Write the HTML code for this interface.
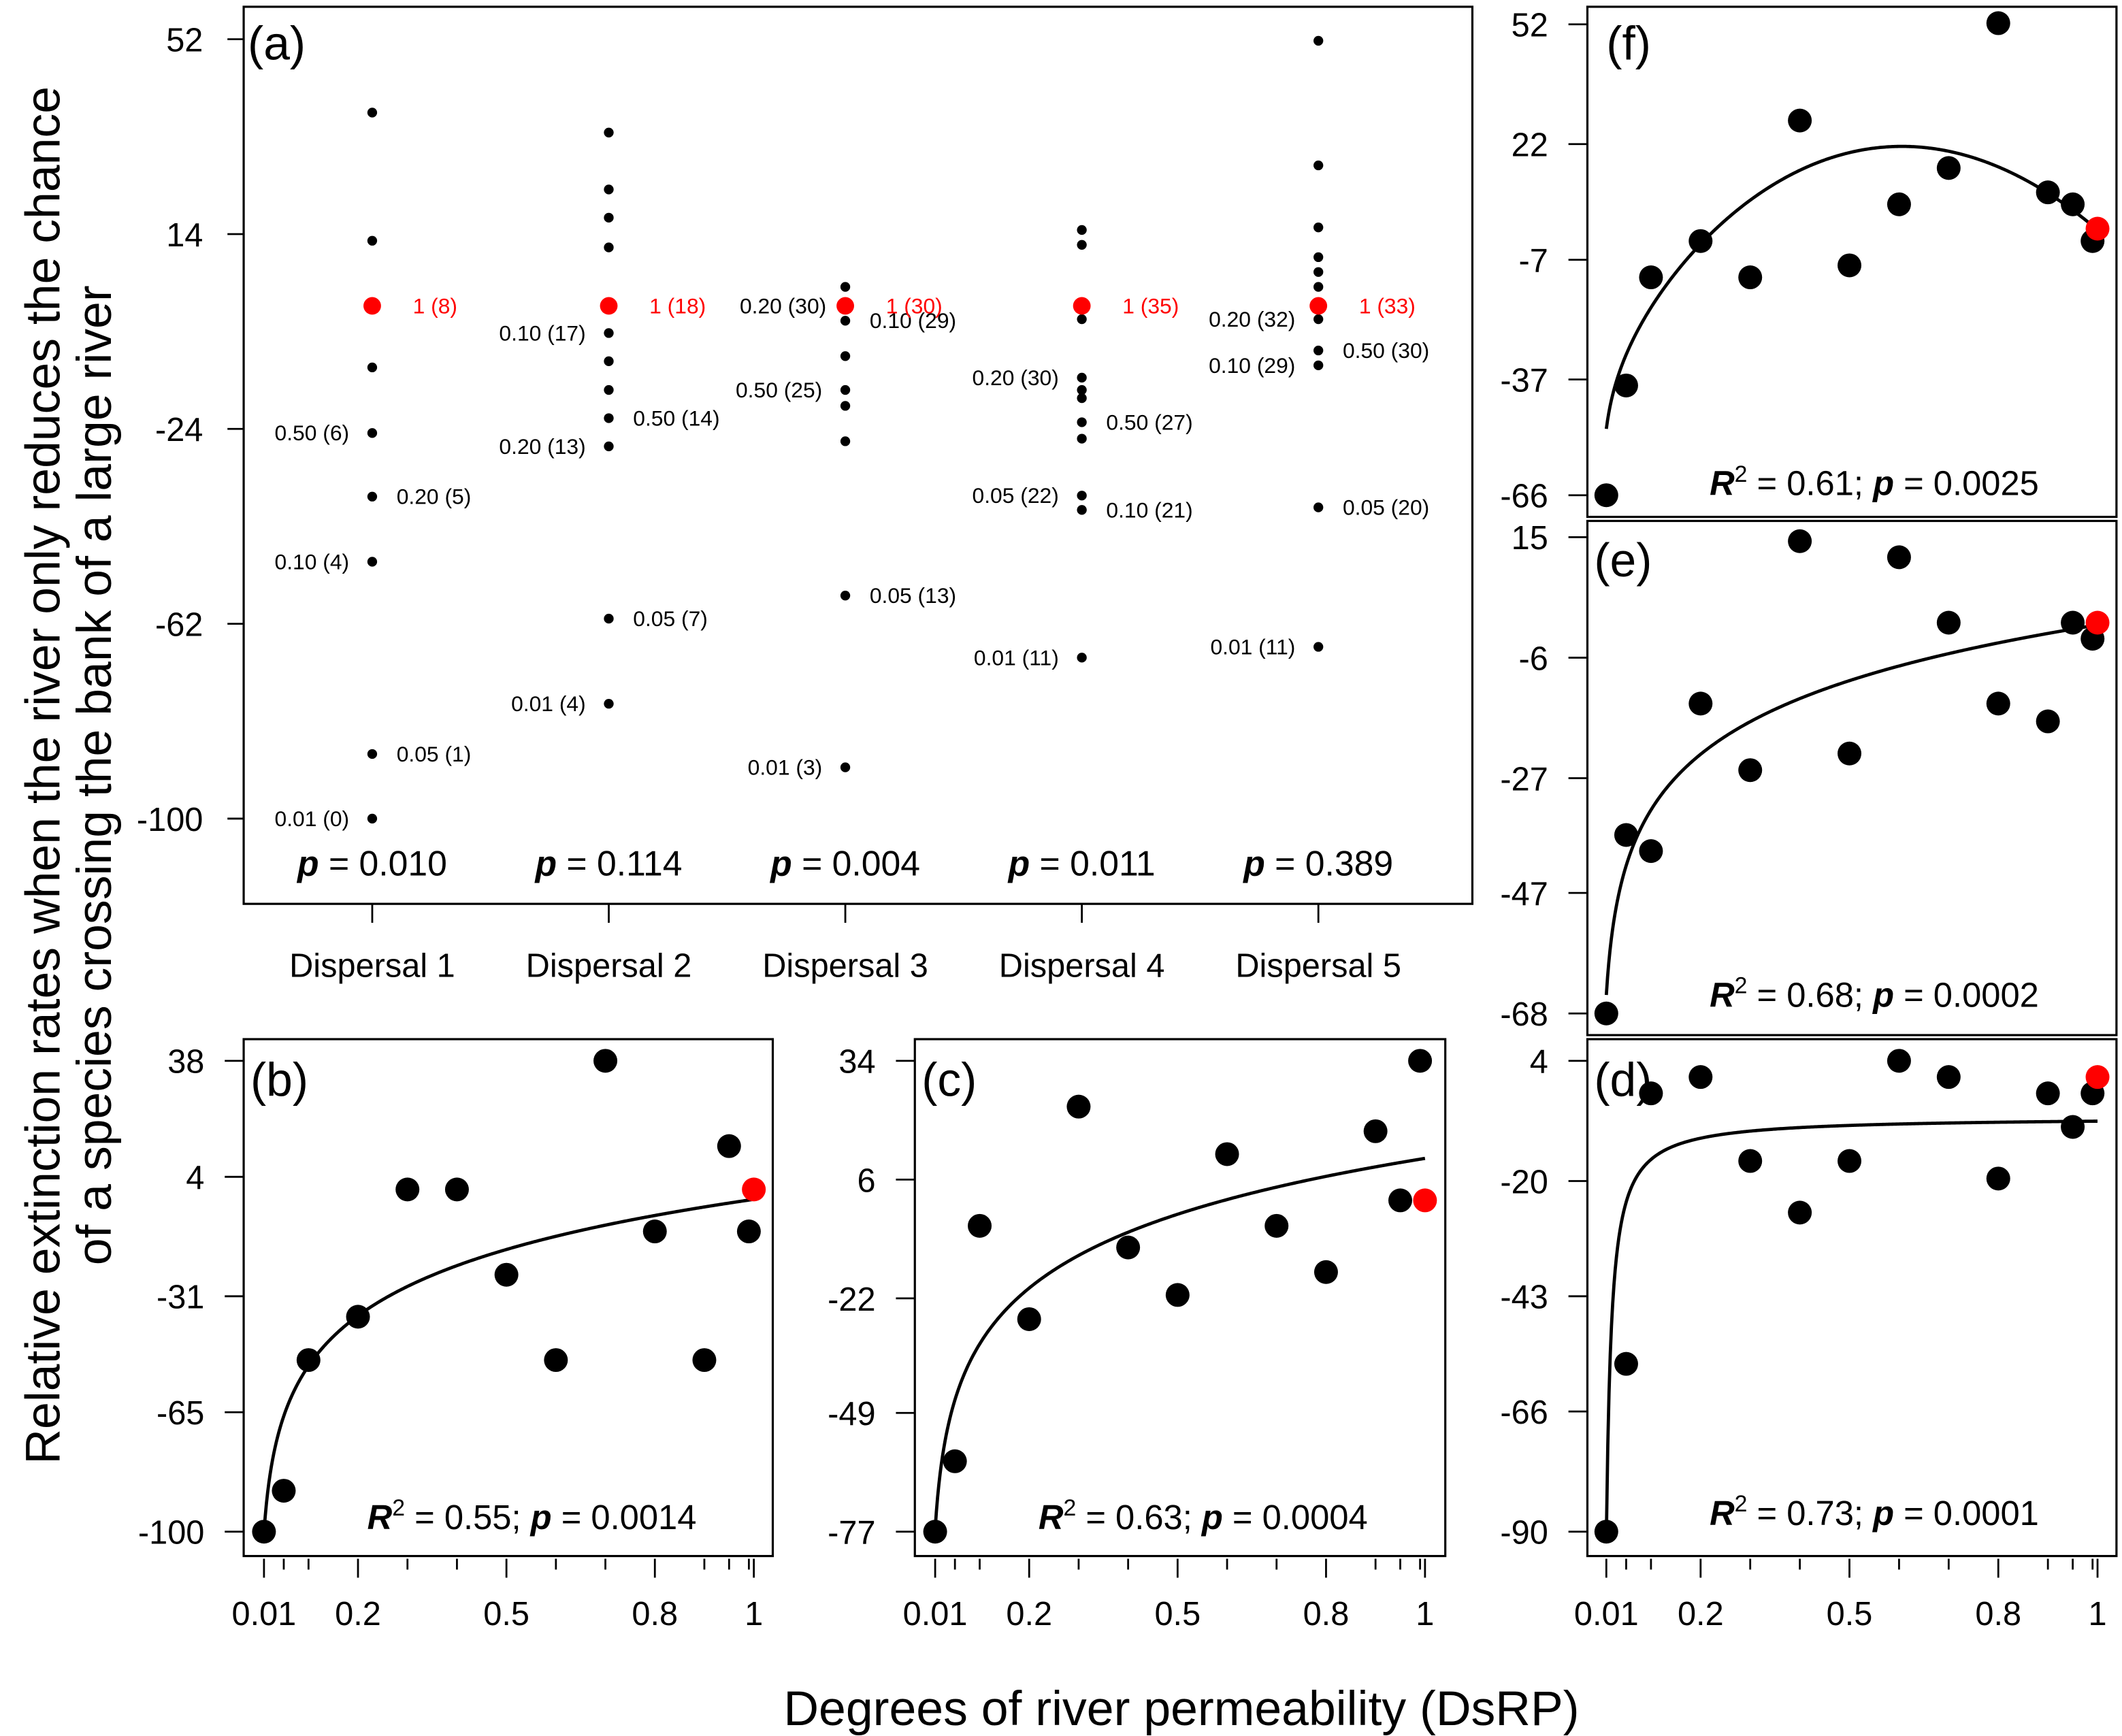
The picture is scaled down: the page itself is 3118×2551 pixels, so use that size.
<!DOCTYPE html>
<html><head><meta charset="utf-8"><style>
html,body{margin:0;padding:0;background:#fff}
svg{display:block}
text{font-family:"Liberation Sans",Arial,sans-serif;fill:#000}
</style></head><body>
<svg id="fig" xmlns="http://www.w3.org/2000/svg" width="3118" height="2551" viewBox="0 0 1568 1283">
<rect x="0" y="0" width="1568" height="1283" fill="#fff"/>
<g id="layer"></g>
<text transform="translate(44,573) rotate(-90)" text-anchor="middle" font-size="36">Relative extinction rates when the river only reduces the chance</text>
<text transform="translate(82,573) rotate(-90)" text-anchor="middle" font-size="36">of a species crossing the bank of a large river</text>
<text x="873" y="1275" text-anchor="middle" font-size="36">Degrees of river permeability (DsRP)</text>
</svg>
<script>
// ---- Panel (a) data ----
const dispersalNames = ["Dispersal 1","Dispersal 2","Dispersal 3","Dispersal 4","Dispersal 5"];
const d1Vals = [37.7,12.7,-12,-24.8,-37.2,-49.9,-87.4,-100];
const d1Labels = ["","","","0.50 (6)","0.20 (5)","0.10 (4)","0.05 (1)","0.01 (0)"];
const d1Sides = ["","","","L","R","L","R","L"];
const d2Vals = [33.8,22.7,17.2,11.4,-5.3,-10.8,-16.4,-21.9,-27.4,-61,-77.6];
const d2Labels = ["","","","","0.10 (17)","","","0.50 (14)","0.20 (13)","0.05 (7)","0.01 (4)"];
const d2Sides = ["","","","","L","","","R","L","R","L"];
const d3Vals = [3.7,-2.9,-9.8,-16.4,-19.5,-26.4,-56.5,-90];
const d3Labels = ["","0.10 (29)","","0.50 (25)","","","0.05 (13)","0.01 (3)"];
const d3Sides = ["","R","","L","","","R","L"];
const d4Vals = [14.8,11.9,-2.6,-14,-16.4,-18,-22.7,-25.9,-37,-39.8,-68.6];
const d4Labels = ["","","","0.20 (30)","","","0.50 (27)","","0.05 (22)","0.10 (21)","0.01 (11)"];
const d4Sides = ["","","","L","","","R","","L","R","L"];
const d5Vals = [51.7,27.4,15.3,9.5,6.6,3.7,-2.6,-8.7,-11.6,-39.3,-66.5];
const d5Labels = ["","","","","","","0.20 (32)","0.50 (30)","0.10 (29)","0.05 (20)","0.01 (11)"];
const d5Sides = ["","","","","","","L","R","L","R","L"];
const redVals = [0,0,0,0,0];
const redLabels = ["1 (8)","1 (18)","1 (30)","1 (35)","1 (33)"];
const extraLeftLabel3 = "0.20 (30)";
const pValsA = ["0.010","0.114","0.004","0.011","0.389"];
const aTicks = [52,14,-24,-62,-100];

// ---- Panels b-f data ----
const dsrp = [0.01,0.05,0.1,0.2,0.3,0.4,0.5,0.6,0.7,0.8,0.9,0.95,0.99];
const redX = 1;
const bVals = [-100,-88,-49.7,-37,0.3,0.3,-24.7,-49.7,38,-12,-49.7,13,-12];
const bRed = 0.3;
const cVals = [-77,-60.4,-4.9,-26.9,23.2,-10,-21.2,12,-4.9,-15.8,17.4,1.1,34];
const cRed = 1.1;
const dVals = [-90,-56.5,-2.5,0.76,-16,-26.3,-16,4,0.76,-19.5,-2.5,-9.2,-2.5];
const dRed = 0.76;
const eVals = [-68,-36.9,-39.7,-14,-25.6,14.3,-22.7,11.5,0.1,-14,-17.1,0.1,-2.7];
const eRed = 0.1;
const fVals = [-66,-38.5,-11.4,-2.3,-11.4,27.9,-8.4,6.9,16,52.3,9.9,6.9,-2.3];
const fRed = 0.8;
const bTicks = [38,4,-31,-65,-100];
const cTicks = [34,6,-22,-49,-77];
const dTicks = [4,-20,-43,-66,-90];
const eTicks = [15,-6,-27,-47,-68];
const fTicks = [52,22,-7,-37,-66];
const xMajor = [0.01,0.2,0.5,0.8,1];
const xMinor = [0.05,0.1,0.3,0.4,0.6,0.7,0.9,0.95,0.99];
const bFit = [-2.6,21.2];
const cFit = [11,19];
const dFit = [-7.2,-0.85];
const eFit = [-0.3,14];
const fFit = [-12.6,139.7,-126.6,8.285];
const stats = [["0.55","0.0014"],["0.63","0.0004"],["0.73","0.0001"],["0.68","0.0002"],["0.61","0.0025"]];

const NS="http://www.w3.org/2000/svg";
const layer=document.getElementById('layer');
function mk(tag,attrs,parent){const e=document.createElementNS(NS,tag);for(const k in attrs)e.setAttribute(k,attrs[k]);(parent||layer).appendChild(e);return e;}
function lin(v1,p1,v2,p2){return v=>p1+(v-v1)*(p2-p1)/(v2-v1);}

// ---------- Panel (a) ----------
const gA=mk('g',{});


const ayA=lin(52,29,-100,605);
const axA=i=>275+i*174.8;
const fA=mk('rect',{x:180,y:5,width:908,height:663,fill:'none',stroke:'#000','stroke-width':1.6},gA);


aTicks.forEach(t=>{
  const y=ayA(t);
  mk('line',{x1:168,x2:180,y1:y,y2:y,stroke:'#000','stroke-width':1.4},gA);
  const tx=mk('text',{x:150,y:y+9,'text-anchor':'end','font-size':24.5},gA);tx.textContent=t;
  
  
});
const pa=mk('text',{x:183,y:44,'font-size':35},gA);pa.textContent='(a)';


const groups=[[d1Vals,d1Labels,d1Sides],[d2Vals,d2Labels,d2Sides],[d3Vals,d3Labels,d3Sides],[d4Vals,d4Labels,d4Sides],[d5Vals,d5Labels,d5Sides]];
groups.forEach((g,i)=>{
  const x=axA(i);
  mk('line',{x1:x,x2:x,y1:668,y2:682,stroke:'#000','stroke-width':1.4},gA);
  const xl=mk('text',{x:x,y:722,'text-anchor':'middle','font-size':24.5},gA);xl.textContent=dispersalNames[i];
  
  
  g[0].forEach((v,j)=>{
    const y=ayA(v);
    const c=mk('circle',{cx:x,cy:y,r:3.6,fill:'#000'},gA);
    
    
    if(g[1][j]){
      const L=g[2][j]==='L';
      const t=mk('text',{x:L?x-17:x+18,y:y+5.5,'text-anchor':L?'end':'start','font-size':16},gA);t.textContent=g[1][j];
      
      
    }
  });
  const ry=ayA(redVals[i]);
  const rc=mk('circle',{cx:x,cy:ry,r:6.5,fill:'#f00'},gA);
  
  
  const rt=mk('text',{x:x+30,y:ry+5.5,'font-size':16,style:'fill:#f00'},gA);rt.textContent=redLabels[i];
  
  
  if(i===2){
    const et=mk('text',{x:x-14,y:ry+5.5,'text-anchor':'end','font-size':16},gA);et.textContent=extraLeftLabel3;
    
    
  }
  const pt=mk('text',{x:x,y:647,'text-anchor':'middle','font-size':26},gA);
  pt.innerHTML='<tspan font-weight="bold" font-style="italic">p</tspan> = '+pValsA[i];
  
  
});

// ---------- Panels b-f ----------
function panel(o){
  const g=mk('g',{});
  
  
  const xs=lin(0.01,o.x0,1,o.x1);
  const ys=lin(o.ticks[0],o.ty0,o.ticks[4],o.ty1);
  const fr=mk('rect',{x:o.bx,y:o.by,width:o.bw,height:o.bh,fill:'none',stroke:'#000','stroke-width':1.6},g);
  
  
  o.ticks.forEach(t=>{
    const y=ys(t);
    mk('line',{x1:o.bx-14,x2:o.bx,y1:y,y2:y,stroke:'#000','stroke-width':1.4},g);
    const tx=mk('text',{x:o.bx-29,y:y+9,'text-anchor':'end','font-size':24.5},g);tx.textContent=t;
    
    
  });
  if(o.xaxis){
    const yb=o.by+o.bh;
    xMajor.forEach(t=>{
      const x=xs(t);
      mk('line',{x1:x,x2:x,y1:yb+2,y2:yb+16,stroke:'#000','stroke-width':1.4},g);
      const tx=mk('text',{x:x,y:yb+51,'text-anchor':'middle','font-size':24.5},g);tx.textContent=t;
      
      
    });
    xMinor.forEach(t=>{const x=xs(t);mk('line',{x1:x,x2:x,y1:yb+2,y2:yb+10,stroke:'#000','stroke-width':1.4},g);});
  }
  let d='';
  for(let i=0;i<=400;i++){
    const xv=o.cStart+(1-o.cStart)*i/400;
    const yv=o.fit(xv);
    d+=(i?'L':'M')+xs(xv).toFixed(2)+','+ys(yv).toFixed(2);
  }
  const cp=mk('path',{d:d,fill:'none',stroke:'#000','stroke-width':2.4},g);
  
  
  dsrp.forEach((xv,i)=>{
    const c=mk('circle',{cx:xs(xv),cy:ys(o.vals[i]),r:8.8,fill:'#000'},g);
    
    
  });
  const rc=mk('circle',{cx:xs(redX),cy:ys(o.red),r:8.8,fill:'#f00'},g);
  
  
  const lb=mk('text',{x:o.lx,y:o.ly,'font-size':35},g);lb.textContent='('+o.id+')';
  
  
  const st=mk('text',{x:o.sx,y:o.sy,'text-anchor':'middle','font-size':25.5},g);
  st.innerHTML='<tspan font-weight="bold" font-style="italic">R</tspan><tspan dy="-10" font-size="17">2</tspan><tspan dy="10"> = '+o.stat[0]+'; </tspan><tspan font-weight="bold" font-style="italic">p</tspan> = '+o.stat[1];
  
  
}
panel({id:'b',bx:180,by:768,bw:391,bh:382,x0:195,x1:557,ticks:bTicks,ty0:784,ty1:1132,vals:bVals,red:bRed,xaxis:true,
  fit:x=>bFit[0]+bFit[1]*Math.log(x),cStart:0.01,lx:185,ly:810,sx:393,sy:1130,stat:stats[0]});
panel({id:'c',bx:676,by:768,bw:392,bh:382,x0:691,x1:1053,ticks:cTicks,ty0:784,ty1:1132,vals:cVals,red:cRed,xaxis:true,
  fit:x=>cFit[0]+cFit[1]*Math.log(x),cStart:0.01,lx:681,ly:810,sx:889,sy:1130,stat:stats[1]});
panel({id:'d',bx:1173,by:768,bw:391,bh:382,x0:1187,x1:1550,ticks:dTicks,ty0:784,ty1:1132,vals:dVals,red:dRed,xaxis:true,
  fit:x=>dFit[0]+dFit[1]/x,cStart:0.0105,lx:1178,ly:810,sx:1385,sy:1127,stat:stats[2]});
panel({id:'e',bx:1173,by:385,bw:391,bh:380,x0:1187,x1:1550,ticks:eTicks,ty0:397,ty1:749,vals:eVals,red:eRed,xaxis:false,
  fit:x=>eFit[0]+eFit[1]*Math.log(x),cStart:0.01,lx:1178,ly:426,sx:1385,sy:744,stat:stats[3]});
panel({id:'f',bx:1173,by:5,bw:391,bh:377,x0:1187,x1:1550,ticks:fTicks,ty0:18,ty1:366,vals:fVals,red:fRed,xaxis:false,
  fit:x=>fFit[0]+fFit[1]*x+fFit[2]*x*x+fFit[3]*Math.log(x),cStart:0.01,lx:1187,ly:44,sx:1385,sy:366,stat:stats[4]});
</script>
</body></html>
